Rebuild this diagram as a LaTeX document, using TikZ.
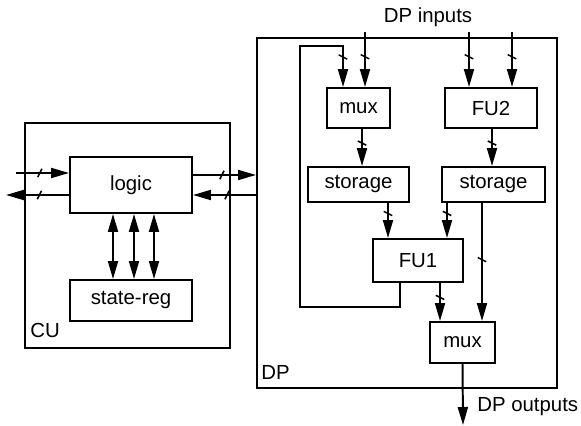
\documentclass[tikz,border=0pt]{standalone}
\usepackage{fontspec}
\setmainfont{Liberation Sans}
\usetikzlibrary{arrows.meta,decorations.markings}

\begin{document}
\begin{tikzpicture}[x=0.25mm, y=-0.25mm,
    blk/.style={draw, line width=1.4pt, inner sep=0pt, font=\fontsize{14.5}{16}\selectfont},
    wire/.style={line width=1.4pt, -{Triangle[length=4.5mm,width=2.5mm]}},
    twoway/.style={line width=1.4pt, {Triangle[length=4.5mm,width=2.5mm]}-{Triangle[length=4.5mm,width=2.5mm]}},
    bus/.style={postaction={decorate}, decoration={markings,
        mark=at position #1 with {\draw[line width=1.1pt, -] (-1.5pt,-3pt) -- (1.5pt,3pt);}}},
    lbl/.style={font=\fontsize{14.5}{16}\selectfont, inner sep=0pt}]

    \useasboundingbox (0,0) rectangle (581,426);

    % =====================================================
    % CONTROL UNIT
    % =====================================================
    \node[blk, minimum width=51.25mm, minimum height=56.25mm] (cu) at (127.5,235.5) {};
    \node[lbl, anchor=west] (culbl) at (30,330) {CU};

    \node[blk, minimum width=30.5mm, minimum height=14mm] (logic) at (131,185) {logic};
    \node[blk, minimum width=30.5mm, minimum height=10.25mm] (statereg) at (131,300.5) {state-reg};

    % logic <-> state register
    \foreach \x in {113,134,154}
        \draw[twoway] (\x,0 |- logic.south) -- (\x,0 |- statereg.north);

    % CU external signals
    \coordinate (cuin) at (16,173);
    \coordinate (cuout) at (6,195);
    \draw[wire, bus=0.45] (cuin) -- (cuin -| logic.west);
    \draw[wire, bus=0.47] (cuout -| logic.west) -- (cuout);

    % =====================================================
    % DATAPATH
    % =====================================================
    \node[blk, minimum width=75mm, minimum height=87.5mm] (dp) at (407,213) {};
    \node[lbl, anchor=west] (dplbl) at (261,372) {DP};

    % CU <-> DP
    \draw[wire, bus=0.46] (logic.east |- 0,175) -- (dp.west |- 0,175);
    \draw[wire, bus=0.46] (dp.west |- 0,195) -- (logic.east |- 0,195);

    % Blocks
    \node[blk, minimum width=15.75mm, minimum height=10mm] (mux1) at (358.5,108) {mux};
    \node[blk, minimum width=23mm, minimum height=10mm] (fu2) at (491,108) {FU2};
    \node[blk, minimum width=25.25mm, minimum height=8.75mm] (store1) at (358.5,184.5) {storage};
    \node[blk, minimum width=25.75mm, minimum height=8.75mm] (store2) at (493.5,184.5) {storage};
    \node[blk, minimum width=22.5mm, minimum height=10.75mm] (fu1) at (418,260.5) {FU1};
    \node[blk, minimum width=16.25mm, minimum height=10.25mm] (mux2) at (462.5,342.5) {mux};

    % Inputs
    \node[lbl] (dpin) at (428,17) {DP inputs};
    \foreach \x/\n in {365/mux1, 469/fu2, 512/fu2}
        \draw[wire, bus=0.45] (\x,32) -- (\x,0 |- \n.north);

    % Feedback FU1 -> mux
    \draw[wire, bus=-7.5mm] (400,0 |- fu1.south) -- (400,307) -- (300,307) -- (300,46)
        -- (343,46) -- (343,0 |- mux1.north);

    % Internal connections
    \draw[wire, bus=0.38] (362,0 |- mux1.south) -- (362,0 |- store1.north);
    \draw[wire, bus=0.38] (492,0 |- fu2.south) -- (492,0 |- store2.north);
    \draw[wire, bus=0.3] (388,0 |- store1.south) -- (388,0 |- fu1.north);
    \draw[wire, bus=0.3] (447,0 |- store2.south) -- (447,0 |- fu1.north);
    \draw[wire, bus=0.48] (482,0 |- store2.south) -- (482,0 |- mux2.north);
    \draw[wire, bus=0.38] (440,0 |- fu1.south) -- (440,0 |- mux2.north);

    % Output
    \coordinate (dpout) at (463,425);
    \draw[wire] (mux2.south) -- (dpout);
    \node[lbl, anchor=west] (dpoutlbl) at (477,407) {DP outputs};

\end{tikzpicture}
\end{document}
